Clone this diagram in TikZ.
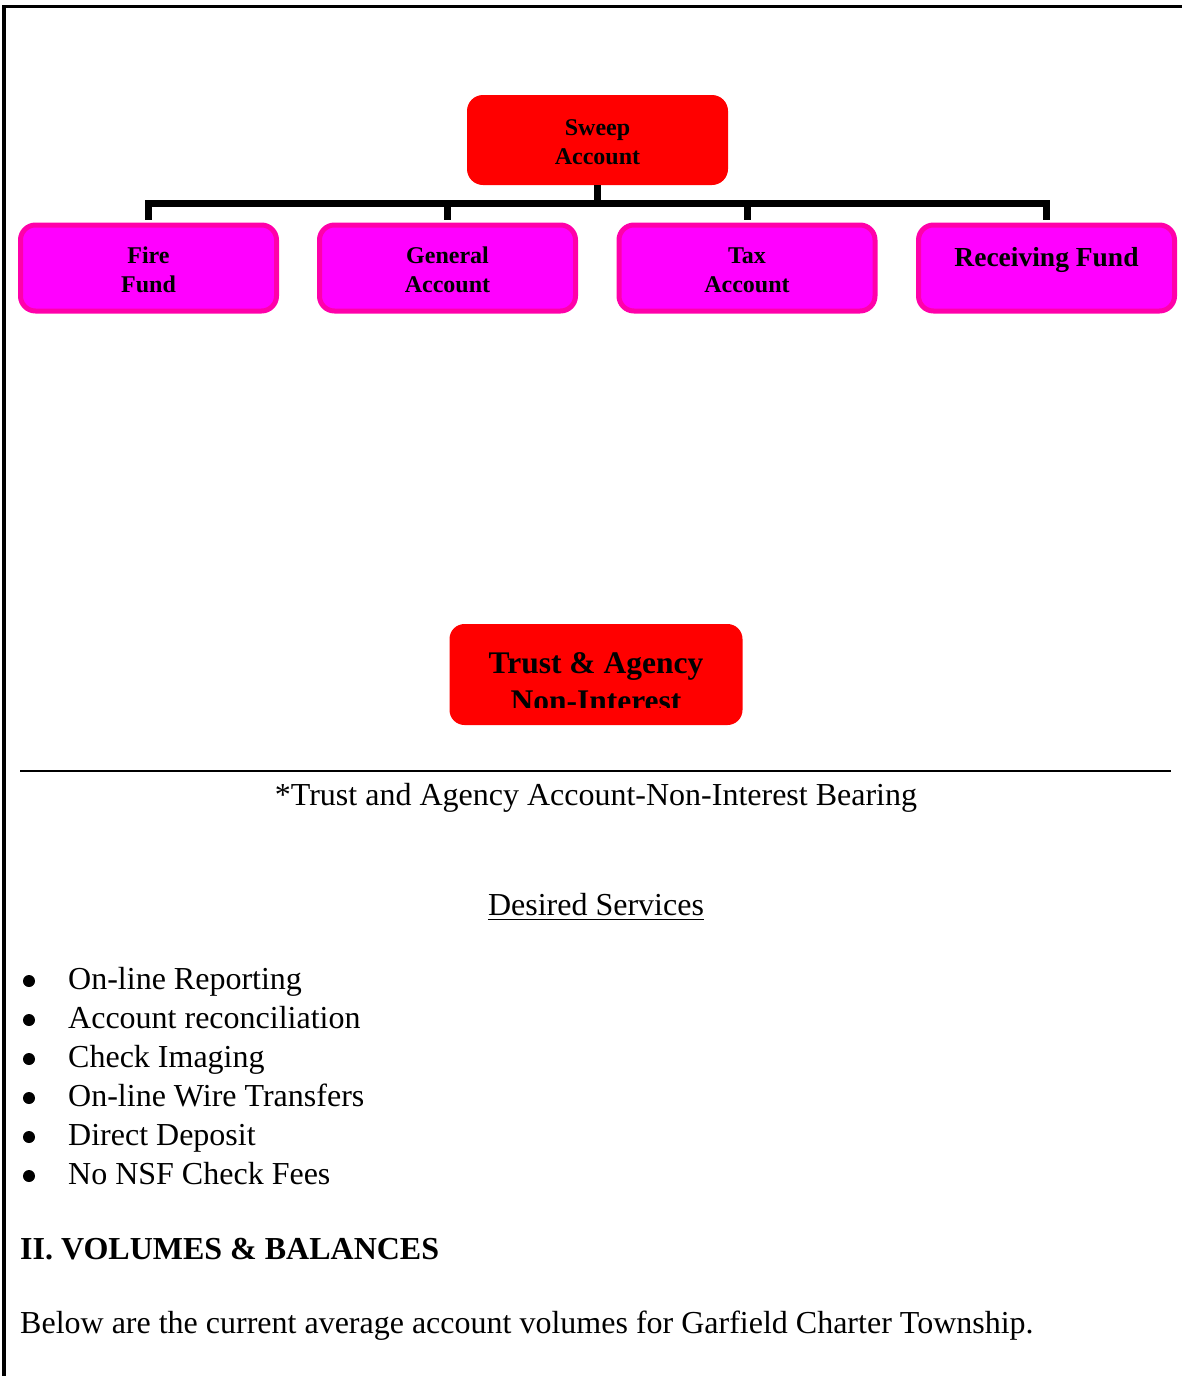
\documentclass[tikz,border=0pt]{standalone}
\usepackage{fontspec}
\setmainfont{Liberation Serif}
\definecolor{fundfill}{RGB}{255,0,255}
\definecolor{fundedge}{RGB}{255,0,170}
\begin{document}
\begin{tikzpicture}[x=1pt,y=-1pt,
  sweepbox/.style={draw=none, fill=red, rounded corners=16pt, minimum width=261pt, minimum height=90pt, inner sep=0pt},
  fundbox/.style={draw=fundedge, line width=5pt, fill=fundfill, rounded corners=15pt, minimum width=256pt, minimum height=86pt, inner sep=0pt},
  boxtext/.style={align=center, inner sep=0pt, font=\fontsize{24}{29}\selectfont\bfseries},
  trustbox/.style={draw=none, fill=red, rounded corners=15pt, minimum width=293pt, minimum height=101pt, inner sep=0pt},
  trusttext/.style={inner sep=0pt, font=\fontsize{31.5}{36}\selectfont\bfseries},
  conn/.style={line width=7pt, shorten >=2.5pt},
  body/.style={inner sep=0pt, font=\fontsize{32}{39}\selectfont},
  bodybold/.style={inner sep=0pt, font=\fontsize{32}{39}\selectfont\bfseries},
  bulletdot/.style={circle, fill=black, inner sep=0pt, minimum size=12pt},
]
\useasboundingbox (0,0) rectangle (1182,1376);
% frame
\draw[line width=3.2pt] (4,1376) -- (4,6.5) -- (1182,6.5);

% sweep account
\node[sweepbox] (sweep) at (597.5,140) {};
\node[boxtext] (sweept) at ([yshift=-2pt]sweep.center) {Sweep\\Account};

% fund boxes
\node[fundbox] (fire) at (148.5,268) {};
\node[fundbox] (general) at (447.5,268) {};
\node[fundbox] (tax) at (747,268) {};
\node[fundbox] (receiving) at (1046.5,268) {};
\node[boxtext] (firet) at ([yshift=-2pt]fire.center) {Fire\\Fund};
\node[boxtext] (generalt) at ([yshift=-2pt]general.center) {General\\Account};
\node[boxtext] (taxt) at ([yshift=-2pt]tax.center) {Tax\\Account};
\node[anchor=base, inner sep=0pt, font=\fontsize{27.5}{29}\selectfont\bfseries] (receivingt) at (1046.5,266) {Receiving Fund};

% connectors
\draw[conn] (sweep.south) -- ++(0,18) -| (fire.north);
\draw[conn] (sweep.south) -- ++(0,18) -| (general.north);
\draw[conn] (sweep.south) -- ++(0,18) -| (tax.north);
\draw[conn] (sweep.south) -- ++(0,18) -| (receiving.north);

% trust & agency
\node[trustbox] (trust) at (596,674.5) {};
\begin{scope}
  \clip (449,620) rectangle (743,707);
  \node[trusttext, anchor=base] (trustl1) at (596,673) {Trust \& Agency};
  \node[trusttext, anchor=base] (trustl2) at (596,711) {Non-Interest};
\end{scope}

% rule and footnote
\draw[line width=1.8pt] (20,771) -- (1171,771);
\node[body, anchor=base] (note) at (596,805) {*Trust and Agency Account-Non-Interest Bearing};

% desired services
\node[body, anchor=base] (ds) at (596,915) {Desired Services};
\draw[line width=1.6pt] ([yshift=-4.5pt]ds.base west) -- ([yshift=-4.5pt]ds.base east);

% bullets
\foreach \t [count=\i] in {On-line Reporting, Account reconciliation, Check Imaging, On-line Wire Transfers, Direct Deposit, No NSF Check Fees}{
  \node[bulletdot] (dot\i) at (29,{981+39*(\i-1)}) {};
  \node[body, anchor=base west] (item\i) at (68,{989+39*(\i-1)}) {\t};
}

% section
\node[bodybold, anchor=base west] (sec) at (20,1259) {II. VOLUMES \& BALANCES};
\node[body, anchor=base west] (below) at (20,1333) {Below are the current average account volumes for Garfield Charter Township.};
\end{tikzpicture}
\end{document}
